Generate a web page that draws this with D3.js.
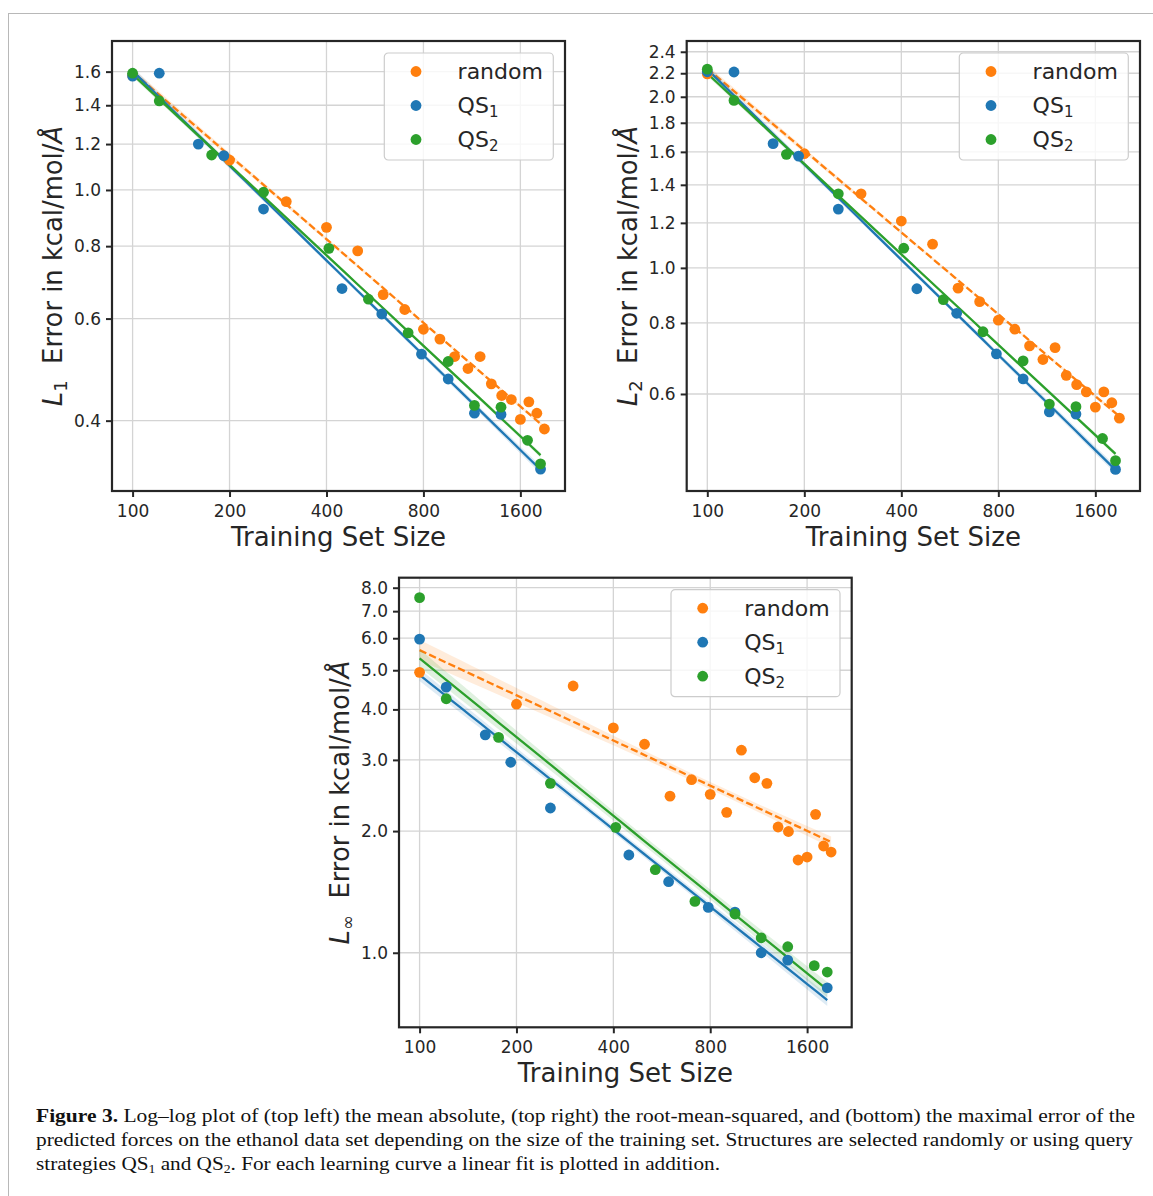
<!DOCTYPE html>
<html>
<head>
<meta charset="utf-8">
<script src="https://cdnjs.cloudflare.com/ajax/libs/d3/7.8.5/d3.min.js"></script>
<style>
  body { margin: 0; background: #fff; }
  svg { display: block; }
</style>
</head>
<body>
<div id="chart"></div>
<script>
//--------------------------------------------------
// data
//--------------------------------------------------

var sizesRandom = [100, 200, 300, 400, 500, 600, 700, 800, 900, 1000, 1100, 1200, 1300, 1400, 1500, 1600, 1700, 1800, 1900]
var sizesQS1 = [100, 121, 160, 192, 255, 447, 594, 789, 955, 1152, 1393, 1848]
var sizesQS2 = [100, 121, 176, 255, 407, 540, 717, 955, 1152, 1393, 1684, 1848]

// mean absolute error
var l1Random = [1.575, 1.126, 0.955, 0.862, 0.785, 0.660, 0.622, 0.575, 0.553, 0.516, 0.492, 0.516, 0.463, 0.442, 0.435, 0.402, 0.431, 0.412, 0.387]
var l1QS1 = [1.572, 1.590, 1.200, 1.146, 0.927, 0.676, 0.611, 0.521, 0.472, 0.412, 0.410, 0.330]
var l1QS2 = [1.590, 1.424, 1.149, 0.991, 0.793, 0.648, 0.567, 0.506, 0.425, 0.422, 0.370, 0.337]

// root mean squared error
var l2Random = [2.195, 1.588, 1.350, 1.209, 1.101, 0.921, 0.872, 0.809, 0.780, 0.729, 0.690, 0.724, 0.647, 0.623, 0.605, 0.569, 0.605, 0.579, 0.544]
var l2QS1 = [2.213, 2.211, 1.654, 1.573, 1.269, 0.919, 0.832, 0.706, 0.638, 0.558, 0.553, 0.442]
var l2QS2 = [2.237, 1.971, 1.584, 1.350, 1.083, 0.879, 0.772, 0.686, 0.576, 0.570, 0.501, 0.458]

// maximal error
var linfRandom = [4.94, 4.12, 4.57, 3.60, 3.28, 2.44, 2.68, 2.466, 2.225, 3.17, 2.71, 2.625, 2.047, 1.995, 1.696, 1.725, 2.20, 1.837, 1.775]
var linfQS1 = [5.97, 4.54, 3.46, 2.96, 2.281, 1.745, 1.499, 1.295, 1.261, 1.00, 0.959, 0.819]
var linfQS2 = [7.56, 4.25, 3.41, 2.625, 2.043, 1.605, 1.340, 1.247, 1.089, 1.035, 0.929, 0.896]

var seriesNames = ["random", "QS1", "QS2"]
var xTicks = [100, 200, 400, 800, 1600]
var yTicksL1 = [0.4, 0.6, 0.8, 1.0, 1.2, 1.4, 1.6]
var yTicksL2 = [0.6, 0.8, 1.0, 1.2, 1.4, 1.6, 1.8, 2.0, 2.2, 2.4]
var yTicksLinf = [1, 2, 3, 4, 5, 6, 7, 8]

//--------------------------------------------------
// setup
//--------------------------------------------------

var color = {random: "#ff7f0e", QS1: "#1f77b4", QS2: "#2ca02c"}
var ink = "#262626"
var font = "'DejaVu Sans', sans-serif"
var bandScale = 0.65   // width of the shaded band, in standard errors of the fit

var width = 1153, height = 1196

var svg = d3.select("#chart").append("svg")
	.attr("width", width)
	.attr("height", height)

// page frame lines
svg.append("line").attr("x1", 8).attr("x2", width).attr("y1", 13.5).attr("y2", 13.5)
	.attr("stroke", "#b8b8b8").attr("stroke-width", 1)
svg.append("line").attr("x1", 8.5).attr("x2", 8.5).attr("y1", 13).attr("y2", height)
	.attr("stroke", "#b8b8b8").attr("stroke-width", 1)

// x range like matplotlib: data 100..1900 plus 5% margin in log space
var lxr = Math.log2(1900 / 100) * 0.05
var xDomain = [100 * Math.pow(2, -lxr), 1900 * Math.pow(2, lxr)]

// least squares fit of log(err) against log(size)
function fit(xs, ys) {
	var lx = xs.map(Math.log), ly = ys.map(Math.log)
	var n = lx.length, mx = d3.mean(lx), my = d3.mean(ly)
	var sxx = d3.sum(lx, function(v) { return (v - mx) * (v - mx) })
	var sxy = d3.sum(lx, function(v, i) { return (v - mx) * (ly[i] - my) })
	var b = sxy / sxx, a = my - b * mx
	var s = Math.sqrt(d3.sum(lx, function(v, i) { return Math.pow(ly[i] - a - b * v, 2) }) / (n - 2))
	return {a: a, b: b, s: s, n: n, mx: mx, sxx: sxx}
}

function panel(cfg) {
	var g = svg.append("g")

	var x = d3.scaleLog().base(2).domain(xDomain).range([cfg.left, cfg.right])
	var y = d3.scaleLog().domain(cfg.yDomain).range([cfg.bottom, cfg.top])

	// grid
	g.selectAll(".gx").data(xTicks).enter().append("line")
		.attr("x1", function(d) { return x(d) }).attr("x2", function(d) { return x(d) })
		.attr("y1", cfg.top).attr("y2", cfg.bottom)
		.attr("stroke", "#d4d4d4").attr("stroke-width", 1.3)
	g.selectAll(".gy").data(cfg.yTicks).enter().append("line")
		.attr("y1", function(d) { return y(d) }).attr("y2", function(d) { return y(d) })
		.attr("x1", cfg.left).attr("x2", cfg.right)
		.attr("stroke", "#d4d4d4").attr("stroke-width", 1.3)

	// fits, bands and points
	cfg.series.forEach(function(s) {
		var f = fit(s.sizes, s.values)
		var lo = d3.min(s.sizes), hi = d3.max(s.sizes)
		var grid = d3.range(0, 41).map(function(i) { return Math.exp(Math.log(lo) + (Math.log(hi) - Math.log(lo)) * i / 40) })
		var band = grid.map(function(v) {
			var lv = Math.log(v)
			var m = f.a + f.b * lv
			var se = bandScale * f.s * Math.sqrt(1 / f.n + (lv - f.mx) * (lv - f.mx) / f.sxx)
			return {x: v, y0: Math.exp(m - se), y1: Math.exp(m + se), y: Math.exp(m)}
		})
		g.append("path").datum(band)
			.attr("d", d3.area().x(function(d) { return x(d.x) }).y0(function(d) { return y(d.y0) }).y1(function(d) { return y(d.y1) }))
			.attr("fill", color[s.name]).attr("fill-opacity", 0.15)
		g.append("path").datum(band)
			.attr("d", d3.line().x(function(d) { return x(d.x) }).y(function(d) { return y(d.y) }))
			.attr("fill", "none").attr("stroke", color[s.name]).attr("stroke-width", 2.3)
			.attr("stroke-dasharray", s.name == "random" ? "7.4,3.2" : null)
	})
	cfg.series.forEach(function(s) {
		g.append("g").selectAll("circle").data(s.sizes).enter().append("circle")
			.attr("cx", function(d) { return x(d) })
			.attr("cy", function(d, i) { return y(s.values[i]) })
			.attr("r", 5.4)
			.attr("fill", color[s.name])
	})

	// frame
	g.append("rect")
		.attr("x", cfg.left).attr("y", cfg.top)
		.attr("width", cfg.right - cfg.left).attr("height", cfg.bottom - cfg.top)
		.attr("fill", "none").attr("stroke", ink).attr("stroke-width", 2.2)

	// axes
	var ax = g.append("g").attr("transform", "translate(0," + cfg.bottom + ")")
		.call(d3.axisBottom(x).tickValues(xTicks).tickFormat(d3.format("d")).tickSize(6).tickSizeOuter(0).tickPadding(8))
	var ay = g.append("g").attr("transform", "translate(" + cfg.left + ",0)")
		.call(d3.axisLeft(y).tickValues(cfg.yTicks).tickFormat(d3.format(".1f")).tickSize(6).tickSizeOuter(0).tickPadding(5))
	;[ax, ay].forEach(function(a) {
		a.select(".domain").remove()
		a.selectAll("line").attr("stroke", ink).attr("stroke-width", 2)
		a.selectAll("text").attr("fill", ink).style("font-family", font).style("font-size", "17px")
	})

	// axis labels
	g.append("text")
		.attr("x", (cfg.left + cfg.right) / 2).attr("y", cfg.bottom + 55)
		.attr("text-anchor", "middle").attr("fill", ink)
		.style("font-family", font).style("font-size", "26px")
		.text("Training Set Size")

	var yl = g.append("text")
		.attr("transform", "translate(" + (cfg.left - 50) + "," + ((cfg.top + cfg.bottom) / 2) + ") rotate(-90)")
		.attr("text-anchor", "middle").attr("fill", ink)
		.style("font-family", font).style("font-size", "25.8px")
	yl.append("tspan").style("font-style", "italic").text("L")
	yl.append("tspan").attr("dy", 5).style("font-size", "18px").text(cfg.sub)
	yl.append("tspan").attr("dy", -5).text("\u00a0\u00a0Error in kcal/mol/")
	yl.append("tspan").style("font-style", "italic").text("\u00c5")

	// legend
	var lw = 169, lh = 107
	var lx0 = cfg.right - 11.7 - lw, ly0 = cfg.top + 12
	var lg = g.append("g").attr("transform", "translate(" + lx0 + "," + ly0 + ")")
	lg.append("rect").attr("width", lw).attr("height", lh).attr("rx", 4)
		.attr("fill", "#fff").attr("fill-opacity", 0.8)
		.attr("stroke", "#cccccc").attr("stroke-width", 1.2)
	seriesNames.forEach(function(name, i) {
		var ry = 18.5 + i * 34
		lg.append("circle").attr("cx", 31.7).attr("cy", ry).attr("r", 5.4).attr("fill", color[name])
		var t = lg.append("text").attr("x", 73.3).attr("y", ry + 7.5).attr("fill", ink)
			.style("font-family", font).style("font-size", "22px")
		if (name == "random") {
			t.text("random")
		} else {
			t.append("tspan").text("QS")
			t.append("tspan").attr("dy", 4).style("font-size", "15px").text(name.slice(2))
		}
	})
}

//--------------------------------------------------
// the three panels
//--------------------------------------------------

function seriesFor(r, q1, q2) {
	return [
		{name: "random", sizes: sizesRandom, values: r},
		{name: "QS1", sizes: sizesQS1, values: q1},
		{name: "QS2", sizes: sizesQS2, values: q2}
	]
}

panel({left: 112, right: 565, top: 41, bottom: 491, yDomain: [0.3025, 1.807], yTicks: yTicksL1, sub: "1",
	series: seriesFor(l1Random, l1QS1, l1QS2)})
panel({left: 686.7, right: 1140, top: 41, bottom: 491, yDomain: [0.405, 2.507], yTicks: yTicksL2, sub: "2",
	series: seriesFor(l2Random, l2QS1, l2QS2)})
panel({left: 399, right: 851.7, top: 577.7, bottom: 1027.3, yDomain: [0.654, 8.47], yTicks: yTicksLinf, sub: "\u221e",
	series: seriesFor(linfRandom, linfQS1, linfQS2)})

//--------------------------------------------------
// caption
//--------------------------------------------------

var capFont = "'Liberation Serif', 'Times New Roman', serif"
var cap1 = svg.append("text").attr("x", 36).attr("y", 1122)
	.attr("textLength", 1099).attr("lengthAdjust", "spacingAndGlyphs")
	.attr("fill", "#111").style("font-family", capFont).style("font-size", "18.5px")
cap1.append("tspan").style("font-weight", "bold").text("Figure 3.")
cap1.append("tspan").text(" Log\u2013log plot of (top left) the mean absolute, (top right) the root-mean-squared, and (bottom) the maximal error of the")

svg.append("text").attr("x", 36).attr("y", 1146)
	.attr("textLength", 1097).attr("lengthAdjust", "spacingAndGlyphs")
	.attr("fill", "#111").style("font-family", capFont).style("font-size", "18.5px")
	.text("predicted forces on the ethanol data set depending on the size of the training set. Structures are selected randomly or using query")

var cap3 = svg.append("text").attr("x", 36).attr("y", 1170)
	.attr("textLength", 684).attr("lengthAdjust", "spacingAndGlyphs")
	.attr("fill", "#111").style("font-family", capFont).style("font-size", "18.5px")
cap3.append("tspan").text("strategies QS")
cap3.append("tspan").attr("dy", 3).style("font-size", "12px").text("1")
cap3.append("tspan").attr("dy", -3).text(" and QS")
cap3.append("tspan").attr("dy", 3).style("font-size", "12px").text("2")
cap3.append("tspan").attr("dy", -3).text(". For each learning curve a linear fit is plotted in addition.")
</script>
</body>
</html>
